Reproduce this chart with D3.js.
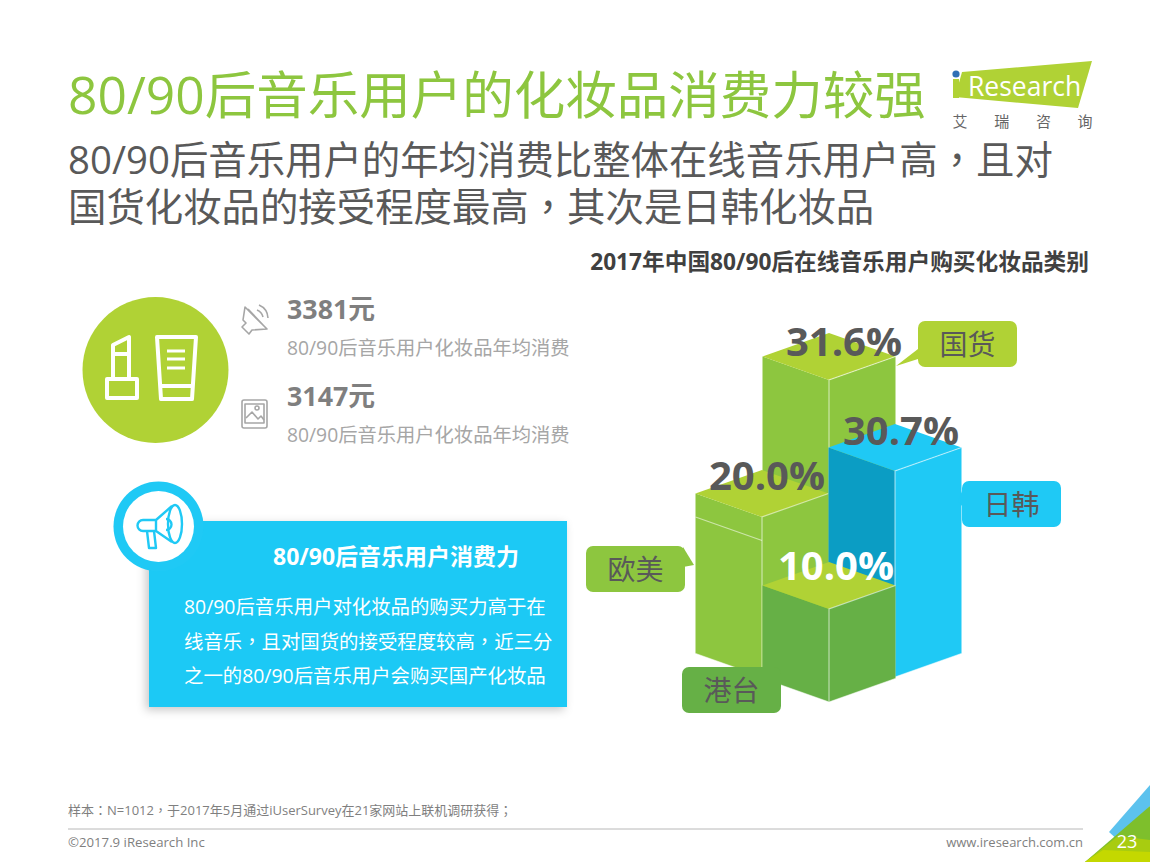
<!DOCTYPE html>
<html>
<head>
<meta charset="utf-8">
<script src="https://cdn.jsdelivr.net/npm/d3@7"></script>
<style>
  html, body { margin: 0; padding: 0; background: #fff; }
  svg { display: block; }
  text { font-family: "Open Sans", "Noto Sans CJK SC", sans-serif; }
  .punct { font-family: "Noto Sans CJK TC", sans-serif; }
</style>
</head>
<body>
<div id="chart"></div>
<script>
// values
const categories = ["国货", "欧美", "日韩", "港台"];
const shares = [31.6, 20.0, 30.7, 10.0];
const shareLabels = ["31.6%", "20.0%", "30.7%", "10.0%"];

const statValues = ["3381元", "3147元"];
const statNotes = ["80/90后音乐用户化妆品年均消费", "80/90后音乐用户化妆品年均消费"];

const titleText = "80/90后音乐用户的化妆品消费力较强";
const subtitleLines = [
  "80/90后音乐用户的年均消费比整体在线音乐用户高，且对",
  "国货化妆品的接受程度最高，其次是日韩化妆品"
];
const chartTitle = "2017年中国80/90后在线音乐用户购买化妆品类别";
const boxTitle = "80/90后音乐用户消费力";
const boxLines = [
  "80/90后音乐用户对化妆品的购买力高于在",
  "线音乐，且对国货的接受程度较高，近三分",
  "之一的80/90后音乐用户会购买国产化妆品"
];
const sourceNote = "样本：N=1012，于2017年5月通过iUserSurvey在21家网站上联机调研获得；";

const GREEN = "#8dc63f", LIME = "#b0d235", DARK = "#66b046", BLUE = "#1fc9f5", TEXT = "#595959";

// the TC cut of the font centres full-width punctuation, as the picture does
function punctText(sel) {
  sel.each(function (d) {
    const t = d3.select(this);
    String(d).split(/([，：；])/).forEach(part => {
      if (part) t.append("tspan").attr("class", /[，：；]/.test(part) ? "punct" : null).text(part);
    });
  });
}

const svg = d3.select("#chart").append("svg").attr("width", 1150).attr("height", 862);

const defs = svg.append("defs");
const shadow = defs.append("filter").attr("id", "shadow")
  .attr("x", "-10%").attr("y", "-10%").attr("width", "120%").attr("height", "125%");
shadow.append("feDropShadow").attr("dx", -3).attr("dy", 3).attr("stdDeviation", 5)
  .attr("flood-color", "#000").attr("flood-opacity", 0.22);

// header
svg.append("text").text(titleText).attr("x", 68).attr("y", 114)
  .attr("font-size", 51.5).attr("fill", GREEN);
svg.selectAll("text.sub").data(subtitleLines).enter().append("text")
  .attr("class", "sub").call(punctText)
  .attr("x", 68).attr("y", (d, i) => 174 + i * 47)
  .attr("font-size", 38.4).attr("fill", TEXT);
svg.append("text").text(chartTitle).attr("x", 1089).attr("y", 270)
  .attr("text-anchor", "end").attr("font-size", 22.7).attr("font-weight", 700).attr("fill", "#404040");

// logo
const logo = svg.append("g").attr("id", "logo");
logo.append("polygon").attr("points", "962,72 1092,61 1078,108 955,97").attr("fill", LIME);
logo.append("rect").attr("x", 953).attr("y", 79).attr("width", 6).attr("height", 19).attr("fill", LIME);
logo.append("circle").attr("cx", 956).attr("cy", 74).attr("r", 3.6).attr("fill", "#2f6fb5");
logo.append("text").text("Research").attr("x", 968).attr("y", 96)
  .attr("font-size", 26.5).attr("font-weight", 500).attr("fill", "#fff");
logo.selectAll("text.cn").data(["艾", "瑞", "咨", "询"]).enter().append("text")
  .attr("class", "cn").text(d => d)
  .attr("x", (d, i) => 960 + i * 41.7).attr("y", 127)
  .attr("text-anchor", "middle").attr("font-size", 15).attr("fill", "#666");

// cosmetics badge
const badge = svg.append("g").attr("id", "badge");
badge.append("circle").attr("cx", 155.5).attr("cy", 370).attr("r", 73).attr("fill", LIME);
const lines = badge.append("g").attr("fill", "none").attr("stroke", "#fff")
  .attr("stroke-width", 4).attr("stroke-linejoin", "round");
lines.append("path").attr("d", "M107,379h30v19h-30z M113,379v-34l16,-8v42 M113,354h16");
lines.append("path").attr("d", "M157,337h39l-4,62h-31z M160,386h32");
lines.append("path").attr("stroke-width", 3).attr("d", "M167,351h18 M167,359h18 M167,368h18");

// stats next to the badge
const statY = d3.scalePoint().domain(statValues).range([319, 406]);
svg.selectAll("text.stat").data(statValues).enter().append("text")
  .attr("class", "stat").text(d => d)
  .attr("x", 287).attr("y", d => statY(d))
  .attr("font-size", 26.8).attr("font-weight", 700).attr("fill", "#7f7f7f");
svg.selectAll("text.note").data(statNotes).enter().append("text")
  .attr("class", "note").text(d => d)
  .attr("x", 287).attr("y", (d, i) => 355 + i * 87)
  .attr("font-size", 19.3).attr("fill", "#a6a6a6");

const speaker = svg.append("g").attr("fill", "none").attr("stroke", "#a6a6a6").attr("stroke-width", 1.6)
  .attr("stroke-linejoin", "round");
speaker.append("path").attr("d", "M245,307l22,22l-15,1l-3,4l-7,-7l4,-4l-3,-3z M248,309l16,17");
speaker.append("path").attr("d", "M257,310a10,10 0 0 1 6,7 M259,305a15,15 0 0 1 9,13");
const picture = svg.append("g").attr("fill", "none").attr("stroke", "#a6a6a6").attr("stroke-width", 1.6)
  .attr("stroke-linejoin", "round");
picture.append("rect").attr("x", 242).attr("y", 400).attr("width", 25).attr("height", 28).attr("rx", 2);
picture.append("rect").attr("x", 245).attr("y", 404).attr("width", 19).attr("height", 19);
picture.append("path").attr("d", "M246,418l6,-6l6,7l3,-3l3,4");
picture.append("circle").attr("cx", 257).attr("cy", 408).attr("r", 2);

// blue text box
svg.append("rect").attr("x", 149).attr("y", 521).attr("width", 418).attr("height", 186)
  .attr("fill", BLUE).attr("filter", "url(#shadow)");
svg.append("circle").attr("cx", 158.5).attr("cy", 526.5).attr("r", 45).attr("fill", BLUE);
svg.append("circle").attr("cx", 158.5).attr("cy", 526.5).attr("r", 35.5).attr("fill", "#fff");
const horn = svg.append("g").attr("fill", "none").attr("stroke", BLUE).attr("stroke-width", 2.4)
  .attr("stroke-linejoin", "round");
horn.append("path").attr("d", "M156,520L172,506M156,531L172,542M143,520H156V531H143a5.5,5.5 0 0 1 0,-11z");
horn.append("path").attr("d", "M147,531l2,17h7l-2,-17");
horn.append("ellipse").attr("cx", 175).attr("cy", 524).attr("rx", 7).attr("ry", 19);
horn.append("path").attr("d", "M166,519a5,5 0 0 1 0,11");

svg.append("text").text(boxTitle).attr("x", 273).attr("y", 565)
  .attr("font-size", 23).attr("font-weight", 700).attr("fill", "#fff");
svg.selectAll("text.body").data(boxLines).enter().append("text")
  .attr("class", "body").call(punctText)
  .attr("x", 184).attr("y", (d, i) => 614 + i * 34.5)
  .attr("font-size", 19.4).attr("fill", "#fff");

// isometric blocks. The picture is not drawn to scale, so height is piecewise
const heightScale = d3.scaleLinear().domain([10, 20, 30.7, 31.6]).range([93, 160, 206, 274]);
const frontX = d3.scaleOrdinal(categories, [829, 762, 895, 829]);
const baseY = d3.scaleOrdinal(categories, [654, 677, 677, 702]);
const sideFill = d3.scaleOrdinal(categories, [GREEN, GREEN, "#0b9dc4", DARK]);
const faceFill = d3.scaleOrdinal(categories, [GREEN, GREEN, BLUE, DARK]);
const topFill = d3.scaleOrdinal(categories, [LIME, LIME, BLUE, LIME]);
const labelDx = d3.scaleOrdinal(categories, [15, 5, 6, 7]);
const labelDy = d3.scaleOrdinal(categories, [-24, -27, -26, -29]);
const labelFill = d3.scaleOrdinal(categories, [TEXT, TEXT, TEXT, "#fff"]);
const hw = 66.5, hd = 23.5;

const blocks = svg.append("g").attr("id", "blocks").selectAll("g.block")
  .data(categories.map((c, i) => ({ name: c, value: shares[i], label: shareLabels[i] })))
  .enter().append("g").attr("class", "block");

blocks.each(function (d) {
  const x = frontX(d.name), y0 = baseY(d.name), y1 = y0 - heightScale(d.value);
  const g = d3.select(this);
  const pts = a => a.map(p => p.join(",")).join(" ");
  g.append("polygon").attr("points", pts([[x - hw, y1 - hd], [x, y1], [x, y0], [x - hw, y0 - hd]]))
    .attr("fill", sideFill(d.name));
  g.append("polygon").attr("points", pts([[x, y1], [x + hw, y1 - hd], [x + hw, y0 - hd], [x, y0]]))
    .attr("fill", faceFill(d.name));
  g.append("polygon").attr("points", pts([[x - hw, y1 - hd], [x, y1 - 2 * hd], [x + hw, y1 - hd], [x, y1]]))
    .attr("fill", topFill(d.name));
  // pale edges along the front corner and the lower rim
  g.append("path").attr("fill", "none").attr("stroke", "#fff").attr("stroke-opacity", 0.55).attr("stroke-width", 1.2)
    .attr("d", `M${x},${y0}V${y1}L${x + hw},${y1 - hd}M${x - hw},${y0 - hd}L${x},${y0}L${x + hw},${y0 - hd}`);
});

// extra shelf line on the 欧美 block
const eu = categories[1];
svg.append("path").attr("fill", "none").attr("stroke", "#fff").attr("stroke-opacity", 0.55).attr("stroke-width", 1.2)
  .attr("d", `M${frontX(eu) - hw},${baseY(eu) - heightScale(shares[1])}L${frontX(eu)},${baseY(eu) - heightScale(shares[1]) + hd}`);

// value labels sit above the blocks
svg.selectAll("text.share").data(categories).enter().append("text")
  .attr("class", "share").text((d, i) => shareLabels[i])
  .attr("x", d => frontX(d) + labelDx(d))
  .attr("y", (d, i) => baseY(d) - heightScale(shares[i]) + labelDy(d))
  .attr("text-anchor", "middle").attr("font-size", 40).attr("font-weight", 700)
  .attr("fill", d => labelFill(d));

// callouts
const calloutX = d3.scaleOrdinal(categories, [918, 586, 962, 682]);
const calloutY = d3.scaleOrdinal(categories, [321, 546, 481, 667]);
const calloutFill = d3.scaleOrdinal(categories, [LIME, GREEN, BLUE, DARK]);
const calloutTail = d3.scaleOrdinal(categories, [
  "M918,349L896,366L918,359z",
  "M683,547L694,565L683,567z",
  "M962,491L958,501L962,506z",
  "M720,667L781,685L781,667z"
]);
const callouts = svg.append("g").attr("id", "callouts").selectAll("g").data(categories).enter().append("g");
callouts.append("path").attr("d", d => calloutTail(d)).attr("fill", d => calloutFill(d));
callouts.append("rect")
  .attr("x", d => calloutX(d)).attr("y", d => calloutY(d))
  .attr("width", 99).attr("height", 46).attr("rx", 7)
  .attr("fill", d => calloutFill(d));
callouts.append("text").text(d => d)
  .attr("x", d => calloutX(d) + 49.5).attr("y", d => calloutY(d) + 34)
  .attr("text-anchor", "middle").attr("font-size", 28).attr("fill", TEXT);

// footer
svg.selectAll("text.source").data([sourceNote]).enter().append("text")
  .attr("class", "source").call(punctText)
  .attr("x", 68).attr("y", 815).attr("font-size", 13).attr("fill", "#7f7f7f");
svg.append("line").attr("x1", 68).attr("x2", 1083).attr("y1", 829).attr("y2", 829)
  .attr("stroke", "#a6a6a6").attr("stroke-width", 0.8);
svg.append("text").text("©2017.9 iResearch Inc").attr("x", 68).attr("y", 847)
  .attr("font-size", 13.2).attr("fill", "#7f7f7f");
svg.append("text").text("www.iresearch.com.cn").attr("x", 1083).attr("y", 847)
  .attr("text-anchor", "end").attr("font-size", 13).attr("fill", "#7f7f7f");

// corner
const corner = svg.append("g").attr("id", "corner");
corner.append("polygon").attr("points", "1150,785 1109,832 1120,842 1150,806").attr("fill", "#5cc2ee");
corner.append("polygon").attr("points", "1150,806 1085,862 1150,862").attr("fill", "#7ebf2c");
corner.append("polygon").attr("points", "1118,836 1085,862 1150,862 1150,840").attr("fill", "#a8cc10");
corner.append("polygon").attr("points", "1103,850 1085,862 1150,862 1150,852").attr("fill", "#c4d800");
svg.append("text").text("23").attr("x", 1127).attr("y", 848)
  .attr("text-anchor", "middle").attr("font-size", 18).attr("fill", "#fff");
</script>
</body>
</html>
